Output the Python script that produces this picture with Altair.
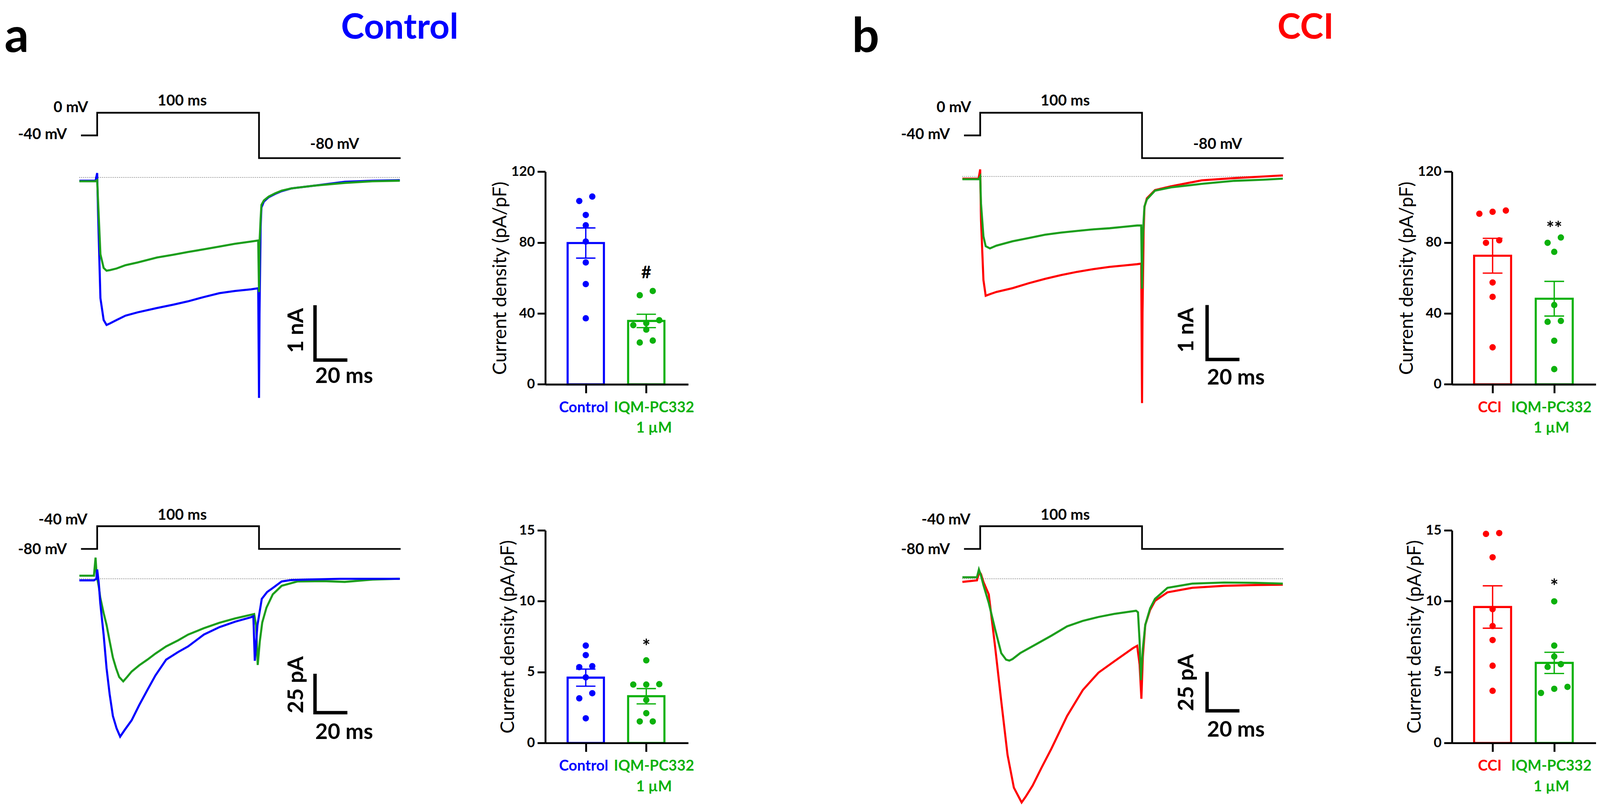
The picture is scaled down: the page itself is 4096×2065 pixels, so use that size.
import json
import altair as alt
import pandas as pd

S = 0.968


def P(r):
    return r * S


FONT = "Lato"
BLUE = "#0000ff"
RED = "#ff0000"
GREEN_TR = "#1c9e1c"
GREEN = "#0cb10c"
INK = "#000000"

# ---------------------------------------------------------------- data
# voltage protocols (ms, mV)
prot_t = [-10, 0, 0, 100, 100, 187.5]
prot_v_top = [-40, -40, 0, 0, -80, -80]
prot_v_bot = [-80, -80, -40, -40, -80, -80]

# panel a, top traces (nA)
a1_t = [-11, -1, 0, 0.5, 2, 4, 5.8, 8, 12, 17.5, 25, 37, 47, 56, 66, 75.6, 85, 95,
        99.5, 100, 100.3, 101, 101.5, 103, 106, 110, 114, 120, 134, 153, 170, 187]
a1_ctrl = [-0.06, -0.06, 0.08, -0.6, -2.2, -2.6, -2.69, -2.66, -2.6, -2.52, -2.46,
           -2.38, -2.32, -2.26, -2.18, -2.11, -2.07, -2.04, -2.02, -4.02, -2.5, -0.9,
           -0.55, -0.44, -0.36, -0.3, -0.25, -0.2, -0.15, -0.08, -0.06, -0.05]
a1_iqm = [-0.07, -0.07, -0.05, -0.4, -1.4, -1.65, -1.70, -1.69, -1.66, -1.60, -1.55,
          -1.46, -1.41, -1.36, -1.31, -1.26, -1.21, -1.17, -1.15, -2.09, -1.2, -0.75,
          -0.5, -0.42, -0.35, -0.29, -0.24, -0.2, -0.15, -0.1, -0.07, -0.06]

# panel b, top traces (nA)
b1_t = [-11, -1, 0, 0.5, 2, 3.4, 6, 10, 20, 30, 40, 50, 60, 70, 80, 90, 97, 99.5, 100,
        100.3, 101, 101.5, 103, 108, 118, 137, 157, 175, 187]
b1_cci = [-0.04, -0.04, 0.13, -0.8, -1.9, -2.19, -2.16, -2.12, -2.05, -1.96, -1.88,
          -1.81, -1.75, -1.70, -1.66, -1.63, -1.61, -1.60, -4.16, -2.5, -1.0, -0.56,
          -0.4, -0.25, -0.18, -0.07, -0.03, 0.0, 0.02]
b1_iqm = [-0.05, -0.05, 0.0, -0.5, -1.1, -1.28, -1.32, -1.27, -1.19, -1.13, -1.07,
          -1.03, -1.0, -0.97, -0.95, -0.92, -0.9, -0.9, -2.06, -1.3, -0.8, -0.55,
          -0.42, -0.26, -0.2, -0.135, -0.08, -0.06, -0.04]

# panel a, bottom traces (pA)
a2_ctrl_t = [-11, -2, -0.5, 0, 1, 1.9, 4, 5.8, 7.7, 9.7, 12, 14.2, 17, 21.3, 26, 31, 36,
             42.6, 50, 56.2, 65.9, 75.6, 85.3, 95, 96.5, 97.4, 99, 101.7, 105, 108.5,
             114, 120, 130, 150, 170, 187]
a2_ctrl = [-1, -1, 0, 6, -3, -15.5, -36, -57.4, -74, -88, -96, -101.3, -97, -90.8, -81,
           -71.4, -62, -51.9, -47, -43.4, -35.8, -31.0, -27.5, -24.7, -24, -52.6, -30,
           -12.9, -8.5, -5.9, -1.7, -0.8, -0.5, 0, 0, 0]
a2_iqm_t = [-11, -2, -1, -0.3, 1, 1.9, 4, 5.8, 7.7, 9.7, 11.7, 13.6, 16.1, 18.5, 21.3,
            26, 31, 36, 42.6, 50, 56.2, 65.9, 75.6, 85.3, 97, 98.2, 99.2, 100.5, 102,
            104.6, 108.5, 114, 123.7, 140, 153, 170, 187]
a2_iqm = [2, 2, 13.6, 2, -5, -12, -22, -29.6, -40, -50.5, -57.5, -63, -65.8, -63, -59.5,
          -55.5, -51.9, -48, -43.4, -39.5, -35.8, -31.7, -28.2, -25.4, -22.6, -30, -55.3,
          -40, -28, -18.5, -10, -4.5, -1.7, -1.5, -2, -0.5, 0]

# panel b, bottom traces (pA)
b2_cci_t = [-11, -2, -0.5, 0.5, 2, 5.3, 9.2, 13, 16.9, 20.8, 25.6, 28, 32.4, 38, 44,
            53.7, 63.4, 73.1, 82.8, 94.4, 97, 98.5, 99.6, 100.5, 102, 105, 108, 115.7,
            131, 150.6, 170, 187]
b2_cci = [-2, -1, 4.6, 3, -2, -10, -43.5, -78.4, -113, -134, -143.5, -140, -132.7, -121,
          -109, -88, -71.4, -60.2, -53, -44.5, -43, -55, -77, -50, -29.6, -20, -14.2,
          -8.7, -5.8, -4.5, -4, -3.8]
b2_iqm_t = [-11, -2, -0.8, 0.5, 2, 5.3, 9.2, 13, 16, 18, 20, 24.7, 34.4, 44, 53.7, 63.4,
            73.1, 82.8, 96.3, 97.5, 98.5, 99.3, 100.5, 102, 105, 108, 115.7, 131, 150.6,
            170, 187]
b2_iqm = [1, 1, 6, 2, -4, -15.5, -32.3, -47.7, -51.9, -52.5, -51.5, -47.7, -42.1, -36.5,
          -30.5, -27, -24.5, -22.5, -20.5, -21.5, -40, -65, -45, -29.6, -19, -12.9, -5.8,
          -3.1, -2.4, -2.6, -3.1]

# current densities (pA/pF), one value per cell
a_top_ctrl = [106.0, 103.5, 95.6, 89.8, 80.6, 68.8, 56.6, 37.3]
a_top_iqm = [52.7, 50.3, 36.2, 34.5, 33.4, 30.9, 24.7, 23.6]
a_bot_ctrl = [6.87, 6.20, 5.42, 5.35, 4.63, 3.51, 3.15, 1.74]
a_bot_iqm = [5.83, 4.15, 4.12, 4.12, 3.03, 2.10, 1.52, 1.52]
b_top_cci = [98.1, 97.4, 96.3, 81.3, 79.9, 57.5, 49.4, 20.9]
b_top_iqm = [82.9, 79.9, 74.8, 44.8, 35.8, 35.3, 24.6, 8.6]
b_bot_cci = [14.81, 14.75, 13.1, 9.44, 8.25, 7.26, 5.45, 3.68]
b_bot_iqm = [9.99, 6.87, 6.10, 5.56, 5.37, 3.96, 3.82, 3.53]

a_groups = ["Control", "IQM-PC332 1 µM"]
b_groups = ["CCI", "IQM-PC332 1 µM "]
a_tick_labels = ["Control", ["IQM-PC332", "1 µM"]]
b_tick_labels = ["CCI", ["IQM-PC332", "1 µM"]]
top_ticks = [0, 40, 80, 120]
bot_ticks = [0, 5, 10, 15]
y_title = "Current density (pA/pF)"

prot_top_labels = ["0 mV", "-40 mV", "100 ms", "-80 mV"]
prot_bot_labels = ["-40 mV", "-80 mV", "100 ms"]

# ---------------------------------------------------------------- layout (reference px)
OFF = 8 / S                     # page margin, in reference pixels
A_T0, C_T0, PX_MS = 257.0, 2592.0, 4.28
A_RIGHT, B_RIGHT, C_RIGHT, D_RIGHT = 1442.0, 1820.0, 3839.5, 4220.0
BOTTOM = 2125.0
domA = [(OFF - A_T0) / PX_MS, (A_RIGHT - A_T0) / PX_MS]
domC = [(B_RIGHT - C_T0) / PX_MS, (C_RIGHT - C_T0) / PX_MS]
wA, wB, wC, wD = P(A_RIGHT - OFF), P(B_RIGHT - A_RIGHT), P(C_RIGHT - B_RIGHT), P(D_RIGHT - C_RIGHT)
H_ALL = P(BOTTOM - OFF)


def ysc(dom, top_ref, bot_ref):
    return alt.Scale(domain=dom, range=[P(bot_ref - OFF), P(top_ref - OFF)], nice=False, zero=False)


def xsc(dom):
    return alt.Scale(domain=dom, nice=False, zero=False)


def X(field, sc, axis=None):
    return alt.X(field, type="quantitative", scale=sc, axis=axis)


def Y(field, sc, axis=None):
    return alt.Y(field, type="quantitative", scale=sc, axis=axis)


def line(t, y, color, width, xs, ys):
    df = pd.DataFrame({"t": t, "y": y, "k": list(range(len(t)))})
    return alt.Chart(df).mark_line(color=color, strokeWidth=width, strokeJoin="miter").encode(
        x=X("t", xs), y=Y("y", ys), order=alt.Order("k:Q"))


def text(labels, ts, ys_vals, xs, ys, size, color=INK, align="center", baseline="middle",
         angle=0, weight="bold", dy=0):
    df = pd.DataFrame({"label": labels, "t": ts, "y": ys_vals})
    return alt.Chart(df).mark_text(font=FONT, fontSize=size, fontWeight=weight, color=color,
                                   align=align, baseline=baseline, angle=angle, dy=dy).encode(
        x=X("t", xs), y=Y("y", ys), text="label:N")


def header(xd, letter, letter_t, title, title_t, title_color, title_align):
    xs = xsc(xd)
    ys = ysc([0, 1], OFF, 240)
    return [
        text([letter], [letter_t], [(240 - 137) / (240 - OFF)], xs, ys, P(127), align="left",
             baseline="alphabetic"),
        text([title], [title_t], [(240 - 102) / (240 - OFF)], xs, ys, P(93), color=title_color,
             align=title_align, baseline="alphabetic"),
    ]


def protocol(xd, levels, labels, lab_t, lab_v, lab_align, top_ref, level0, level0_ref, bot_ref):
    top = level0 + (level0_ref - top_ref) / 1.5
    bot = level0 - (bot_ref - level0_ref) / 1.5
    xs = xsc(xd)
    ys = ysc([bot, top], top_ref, bot_ref)
    layers = [line(prot_t, levels, INK, P(4.5), xs, ys)]
    for al in ("right", "center"):
        idx = [i for i, a in enumerate(lab_align) if a == al]
        layers.append(text([labels[i] for i in idx], [lab_t[i] for i in idx], [lab_v[i] for i in idx],
                           xs, ys, P(40), align=al))
    return layers


def currents(xd, traces, top_ref, bot_ref, base_ref, px_unit, sb, sb_text):
    xs = xsc(xd)
    ys = ysc([-(bot_ref - base_ref) / px_unit, (base_ref - top_ref) / px_unit], top_ref, bot_ref)
    base = alt.Chart(pd.DataFrame({"t0": [-11], "t1": [187], "z": [0]})).mark_rule(
        color="#555555", strokeWidth=P(1.6), strokeDash=[P(2), P(3)]).encode(
        x=X("t0", xs), x2="t1:Q", y=Y("z", ys))
    layers = [base]
    for t, y, c in traces:
        layers.append(line(t, y, c, P(5.5), xs, ys))
    t0, ytop, amp = sb
    layers.append(line([t0, t0, t0 + 20], [ytop, ytop - amp, ytop - amp], INK, P(9), xs, ys))
    (l1, l1t, l1y), (l2, l2t, l2y) = sb_text
    layers.append(text([l1], [l1t], [l1y], xs, ys, P(57), angle=270))
    layers.append(text([l2], [l2t], [l2y], xs, ys, P(57)))
    return layers


def swarm(values, thresh, step):
    order = sorted(range(len(values)), key=lambda k: -values[k])
    rows = []
    for k in order:
        if rows and values[rows[-1][0]] - values[k] <= thresh:
            rows[-1].append(k)
        else:
            rows.append([k])
    offs = [0.0] * len(values)
    for row in rows:
        row = sorted(row, key=lambda k: values[k])
        n = len(row)
        for j, k in enumerate(row):
            offs[k] = (j - (n - 1) / 2) * step
    return offs


def bars(groups, series, colors, tick_labels, ymax, yticks, sig, sig_y, sig_size, sig_dy,
         width_ref, c1_ref, c2_ref, lab_off, top_ref, zero_ref, col_bottom_ref):
    px_unit = c2_ref - c1_ref
    xd = [1 - c1_ref / px_unit, 1 + (width_ref - c1_ref) / px_unit]
    rows = []
    for cat, (g, vals) in enumerate(zip(groups, series), start=1):
        for v, o in zip(vals, swarm(vals, 0.03 * ymax, 0.215)):
            rows.append({"grp": g, "cat": cat, "v": v, "pos": cat + o})
    df = pd.DataFrame(rows)
    xs = xsc(xd)
    ys = ysc([0, ymax], top_ref, zero_ref)
    col = alt.Scale(domain=groups, range=colors)
    expr = "datum.value == 1 ? {} : {}".format(json.dumps(tick_labels[0], ensure_ascii=False),
                                                json.dumps(tick_labels[1], ensure_ascii=False))
    xaxis = alt.Axis(orient="bottom", offset=-P(col_bottom_ref - zero_ref),
                     values=[1, 2], title=None, labelExpr=expr, labelFont=FONT, labelFontWeight="bold",
                     labelFontSize=P(39), labelLineHeight=P(54.5), labelPadding=P(19), labelLimit=0,
                     labelColor={"condition": {"test": "datum.value == 1", "value": colors[0]},
                                 "value": colors[1]},
                     labelOffset={"condition": {"test": "datum.value == 1", "value": P(lab_off[0])},
                                  "value": P(lab_off[1])},
                     labelOverlap=False, labelFlush=False, labelBound=False,
                     domainColor=INK, domainWidth=P(5), tickColor=INK, tickWidth=P(5),
                     tickSize=P(23), grid=False, zindex=1)
    yaxis = alt.Axis(orient="left", values=yticks, title=y_title, titleFont=FONT, titleFontWeight="normal",
                     titleFontSize=P(49.5), titleColor=INK, titlePadding=P(3),
                     labelFont=FONT, labelFontWeight="bold", labelFontSize=P(36), labelColor=INK,
                     labelPadding=P(7), labelOverlap=False, labelLimit=0, domainColor=INK,
                     domainWidth=P(5), tickColor=INK, tickWidth=P(5), tickSize=P(21), grid=False,
                     zindex=1)
    base = alt.Chart(df)
    agg = base.transform_aggregate(mean="mean(v)", se="stderr(v)", groupby=["grp", "cat"]).transform_calculate(
        x1="datum.cat - 0.3", x2="datum.cat + 0.3", zero="0",
        lo="datum.mean - datum.se", hi="datum.mean + datum.se",
        c1="datum.cat - 0.16", c2="datum.cat + 0.16")
    stroke = alt.Stroke("grp:N", scale=col, legend=None)
    bar = agg.mark_rect(fill="white", strokeWidth=P(5.5)).encode(
        x=X("x1", xs, xaxis), x2="x2:Q", y=Y("mean", ys, yaxis), y2="zero:Q", stroke=stroke)
    err = agg.mark_rule(strokeWidth=P(3.5)).encode(
        x=X("cat", xs), y=Y("lo", ys), y2="hi:Q", stroke=stroke)
    cap_hi = agg.mark_rule(strokeWidth=P(3.5)).encode(
        x=X("c1", xs), x2="c2:Q", y=Y("hi", ys), stroke=stroke)
    cap_lo = agg.mark_rule(strokeWidth=P(3.5)).encode(
        x=X("c1", xs), x2="c2:Q", y=Y("lo", ys), stroke=stroke)
    pts = base.mark_circle(size=265, opacity=1).encode(
        x=X("pos", xs), y=Y("v", ys), color=alt.Color("grp:N", scale=col, legend=None))
    sig_df = pd.DataFrame({"s": [sig], "c": [2], "y": [sig_y]})
    sigm = alt.Chart(sig_df).mark_text(font=FONT, fontWeight="bold", fontSize=P(sig_size), color=INK,
                                       baseline="middle", dy=sig_dy).encode(
        x=X("c", xs), y=Y("y", ys), text="s:N")
    return [bar, err, cap_hi, cap_lo, pts, sigm]


def column(layers, w, h):
    return alt.layer(*layers).resolve_scale(x="independent", y="independent").properties(width=w, height=h)


top_lab_t = [-5.6, -18.7, 52.5, 146.7]
top_lab_v = [9.3, -38.0, 20.7, -55.3]
top_lab_al = ["right", "right", "center", "center"]
bot_lab_t = [-6.0, -18.7, 52.5]
bot_lab_v = [-28.6, -81.0, -20.7]
bot_lab_al = ["right", "right", "center"]

BAR_BOTTOM = 1964.0

colA = column(
    header(domA, "a", (12 - A_T0) / PX_MS, "Control", (1057 - A_T0) / PX_MS, BLUE, "center")
    + protocol(domA, prot_v_top, prot_top_labels, top_lab_t, top_lab_v, top_lab_al, 240, 0, 298, 440)
    + currents(domA, [(a1_t, a1_ctrl, BLUE), (a1_t, a1_iqm, GREEN_TR)], 440, 1180, 469, 145,
               (134.6, -2.33, 1.0), (("1 nA", 123.1, -2.79), ("20 ms", 152.6, -3.63)))
    + protocol(domA, prot_v_bot, prot_bot_labels, bot_lab_t, bot_lab_v, bot_lab_al, 1180, -40, 1391, 1480)
    + currents(domA, [(a2_iqm_t, a2_iqm, GREEN_TR), (a2_ctrl_t, a2_ctrl, BLUE)], 1480, BOTTOM, 1530, 4.12,
               (134.6, -60.9, 25), (("25 pA", 123.1, -68), ("20 ms", 152.6, -98.5))),
    wA, H_ALL)

colB = column(
    bars(a_groups, [a_top_ctrl, a_top_iqm], [BLUE, GREEN], a_tick_labels, 120, top_ticks,
         "#", 62.8, 46, 0, 378, 107, 267, (-6, 20), 454, 1016, BAR_BOTTOM)
    + bars(a_groups, [a_bot_ctrl, a_bot_iqm], [BLUE, GREEN], a_tick_labels, 15, bot_ticks,
           "*", 7.05, 52, P(12), 378, 107, 267, (-6, 20), 1402, BAR_BOTTOM, BAR_BOTTOM),
    wB, P(BAR_BOTTOM - OFF))

colC = column(
    header(domC, "b", (2253 - C_T0) / PX_MS, "CCI", (3378 - C_T0) / PX_MS, RED, "left")
    + protocol(domC, prot_v_top, prot_top_labels, top_lab_t, top_lab_v, top_lab_al, 240, 0, 298, 440)
    + currents(domC, [(b1_t, b1_cci, RED), (b1_t, b1_iqm, GREEN_TR)], 440, 1180, 466.5, 144,
               (140.2, -2.36, 1.0), (("1 nA", 127.6, -2.82), ("20 ms", 158, -3.70)))
    + protocol(domC, prot_v_bot, prot_bot_labels, bot_lab_t, bot_lab_v, bot_lab_al, 1180, -40, 1391, 1480)
    + currents(domC, [(b2_cci_t, b2_cci, RED), (b2_iqm_t, b2_iqm, GREEN_TR)], 1480, BOTTOM, 1530, 4.12,
               (140.2, -59.7, 25), (("25 pA", 127.6, -66.5), ("20 ms", 158, -97))),
    wC, H_ALL)

colD = column(
    bars(b_groups, [b_top_cci, b_top_iqm], [RED, GREEN], b_tick_labels, 120, top_ticks,
         "**", 90.3, 50, P(12), 380.5, 107.5, 270.5, (-8, -8), 454, 1016, BAR_BOTTOM)
    + bars(b_groups, [b_bot_cci, b_bot_iqm], [RED, GREEN], b_tick_labels, 15, bot_ticks,
           "*", 11.29, 52, P(12), 380.5, 107.5, 270.5, (-8, -8), 1402, BAR_BOTTOM, BAR_BOTTOM),
    wD, P(BAR_BOTTOM - OFF))

chart = alt.hconcat(colA, colB, colC, colD, spacing=0, bounds="flush").resolve_scale(
    color="independent", stroke="independent").properties(
    padding=0, background="white").configure_view(stroke=None)

chart.save("out.html", embed_options={"renderer": "svg", "actions": False})
